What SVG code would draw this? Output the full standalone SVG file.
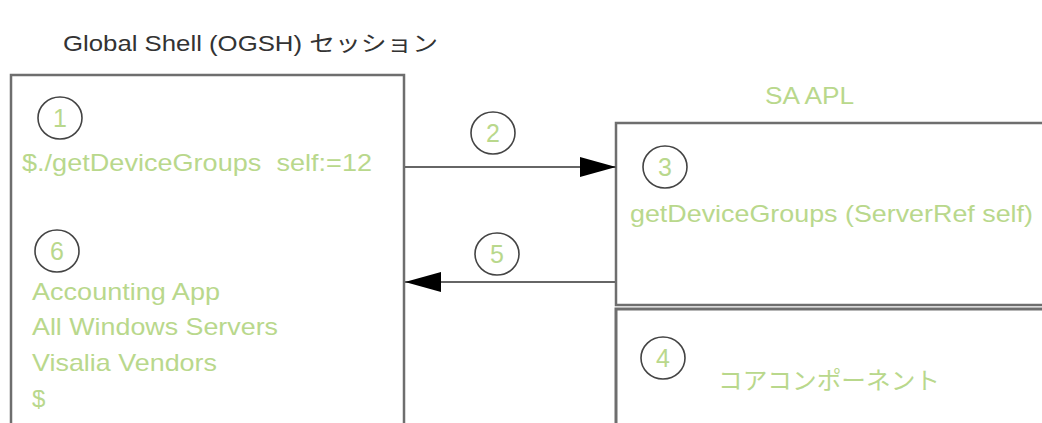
<svg xmlns="http://www.w3.org/2000/svg" width="1042" height="423" viewBox="0 0 1042 423">
  <defs>
    <style>
      .box { fill: #ffffff; stroke: #6e6e6e; stroke-width: 2.5; }
      .step { fill: none; stroke: #444444; stroke-width: 1.6; }
      .num { font-family: "Liberation Sans", Arial, sans-serif; font-size: 25px; fill: #b9d88c; text-anchor: middle; }
      .green { font-family: "Liberation Sans", Arial, sans-serif; font-size: 24px; fill: #b9d88c; white-space: pre; }
      .jp { font-family: "Liberation Sans", "Noto Sans CJK JP", sans-serif; font-size: 24px; }
      .title { font-family: "Liberation Sans", "Noto Sans CJK JP", sans-serif; font-size: 22px; fill: #333333; }
      .wire { fill: none; stroke: #666666; stroke-width: 2; }
    </style>
    <marker id="head" viewBox="0 0 36 20" refX="36" refY="10" markerWidth="36" markerHeight="20" markerUnits="userSpaceOnUse" orient="auto">
      <path d="M0,0 L36,10 L0,20 Z" fill="#000000"/>
    </marker>
  </defs>

  <rect width="1042" height="423" fill="#ffffff"/>

  <!-- Global Shell session -->
  <g id="ogsh-session">
    <text class="title" x="63" y="51" textLength="375" lengthAdjust="spacingAndGlyphs">Global Shell (OGSH) セッション</text>
    <rect class="box" x="11" y="75" width="393" height="370"/>
    <ellipse class="step" cx="60" cy="118" rx="22" ry="21"/>
    <text class="num" x="60" y="127">1</text>
    <text class="green" x="22" y="171" xml:space="preserve" textLength="350" lengthAdjust="spacingAndGlyphs">$./getDeviceGroups  self:=12</text>
    <ellipse class="step" cx="57" cy="251" rx="22" ry="21"/>
    <text class="num" x="57" y="260">6</text>
    <text class="green" x="32" y="300" textLength="188" lengthAdjust="spacingAndGlyphs">Accounting App</text>
    <text class="green" x="32" y="335" textLength="246" lengthAdjust="spacingAndGlyphs">All Windows Servers</text>
    <text class="green" x="32" y="371" textLength="185" lengthAdjust="spacingAndGlyphs">Visalia Vendors</text>
    <text class="green" x="32" y="407">$</text>
  </g>

  <!-- SA API layer -->
  <g id="sa-apl">
    <text class="green" x="765" y="104" textLength="89" lengthAdjust="spacingAndGlyphs">SA APL</text>
    <rect class="box" x="616" y="123" width="440" height="182"/>
    <ellipse class="step" cx="665" cy="167" rx="22" ry="21"/>
    <text class="num" x="665" y="176">3</text>
    <text class="green" x="630" y="222" textLength="403" lengthAdjust="spacingAndGlyphs">getDeviceGroups (ServerRef self)</text>
  </g>

  <!-- Core component -->
  <g id="core">
    <rect class="box" x="616" y="309" width="440" height="130" style="stroke-width:3"/>
    <ellipse class="step" cx="663" cy="358" rx="22" ry="21"/>
    <text class="num" x="663" y="367">4</text>
    <text class="green jp" x="718" y="389" textLength="222" lengthAdjust="spacingAndGlyphs">コアコンポーネント</text>
  </g>

  <!-- Call and return -->
  <g id="connectors">
    <line class="wire" x1="405" y1="167" x2="616" y2="167" marker-end="url(#head)"/>
    <ellipse class="step" cx="493" cy="133" rx="22" ry="21"/>
    <text class="num" x="493" y="142">2</text>
    <line class="wire" x1="615" y1="282" x2="405" y2="282" marker-end="url(#head)"/>
    <ellipse class="step" cx="497" cy="254" rx="22" ry="21"/>
    <text class="num" x="497" y="263">5</text>
  </g>
</svg>
